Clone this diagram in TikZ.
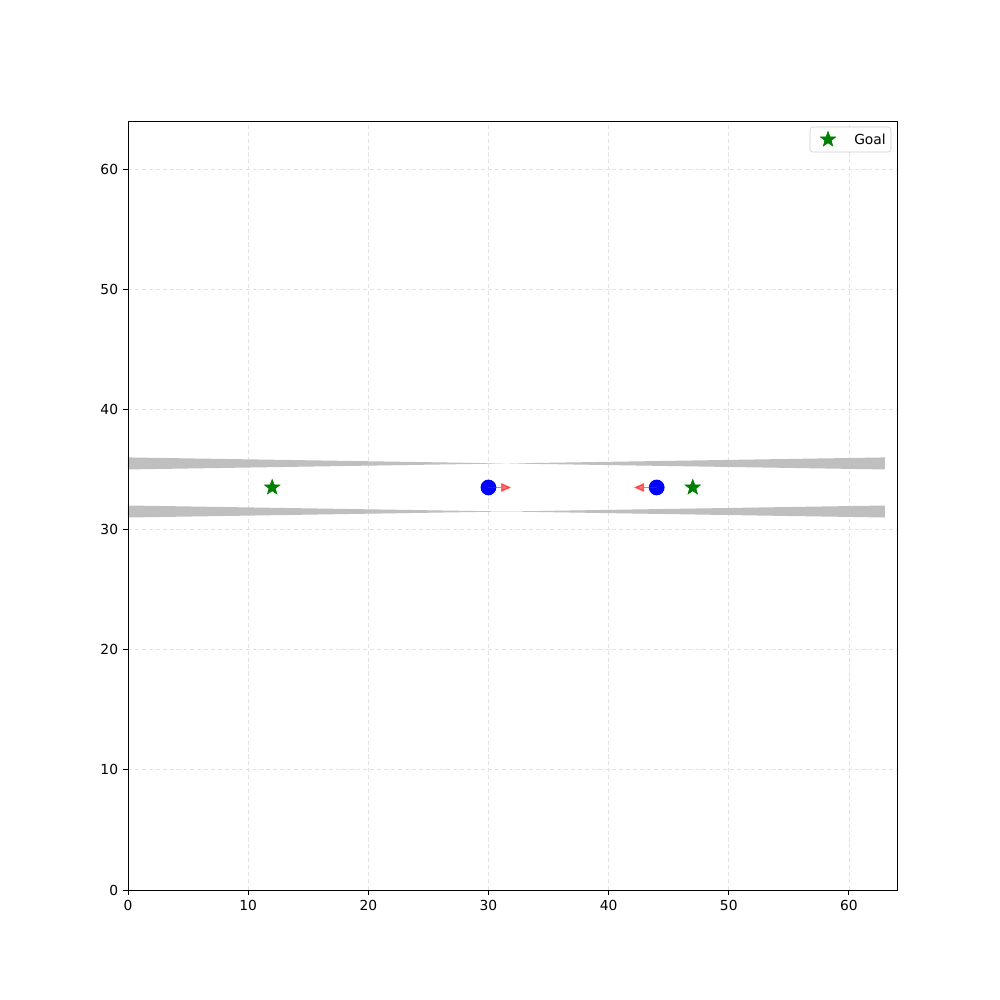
\documentclass[tikz,border=0pt]{standalone}
\usepackage{fontspec}
\setmainfont{DejaVu Sans}
\usetikzlibrary{shapes.geometric,arrows.meta}

\begin{document}
\begin{tikzpicture}[x=0.30518cm,y=0.30518cm]
  \colorlet{wallc}{black!25}
  \colorlet{gridc}{black!11}
  \colorlet{botc}{blue}
  \colorlet{goalc}{green!50!black}
  \def\tk{0.40}
  \tikzset{
    goal/.style={star,star points=5,star point ratio=2.4,fill=goalc,draw=goalc,inner sep=0pt,minimum size=4.1mm},
    robot/.style={circle,fill=botc,inner sep=0pt,minimum size=4mm},
    heading/.style={draw=red,opacity=0.55,line width=1pt,-{Triangle[length=2.6mm,width=2.2mm]}},
    gridline/.style={gridc,line width=0.6pt,dash pattern=on 3pt off 2pt}
  }
  \useasboundingbox (-10.652,-9.154) rectangle (72.57,74.07);

  % grid
  \foreach \i in {10,20,...,60}{
    \draw[gridline] (\i,0) -- (\i,64);
    \draw[gridline] (0,\i) -- (64,\i);}

  % the corridor walls
  \fill[wallc] (0,36) -- (31.5,35.5) -- (0,35) -- cycle;
  \fill[wallc] (63,36) -- (31.5,35.5) -- (63,35) -- cycle;
  \fill[wallc] (0,32) -- (31.5,31.5) -- (0,31) -- cycle;
  \fill[wallc] (63,32) -- (31.5,31.5) -- (63,31) -- cycle;

  % goals and robots
  \node[goal] (g1) at (12,33.5) {};
  \node[goal] (g2) at (47,33.5) {};
  \node[robot] (r1) at (30,33.5) {};
  \node[robot] (r2) at (44,33.5) {};
  \coordinate (h1) at (31.9,33.5);
  \coordinate (h2) at (42.1,33.5);
  \draw[heading] (r1.center) -- (h1);
  \draw[heading] (r2.center) -- (h2);

  % frame, ticks and labels
  \draw[line width=0.65pt] (0,0) rectangle (64,64);
  \foreach \i in {0,10,...,60}{
    \draw[line width=0.65pt] (\i,0) -- (\i,-\tk);
    \node[anchor=north,inner sep=0pt] at (\i,-0.8) {\i};
    \draw[line width=0.65pt] (0,\i) -- (-\tk,\i);
    \node[anchor=east,inner sep=0pt] at (-0.8,\i) {\i};}

  % legend
  \draw[black!20,fill=white,rounded corners=2pt] (56.76,61.42) rectangle (63.5,63.5);
  \node[goal] (lg) at (58.26,62.46) {};
  \node[anchor=west,inner sep=0pt] (lt) at (60.42,62.46) {Goal};
\end{tikzpicture}
\end{document}
